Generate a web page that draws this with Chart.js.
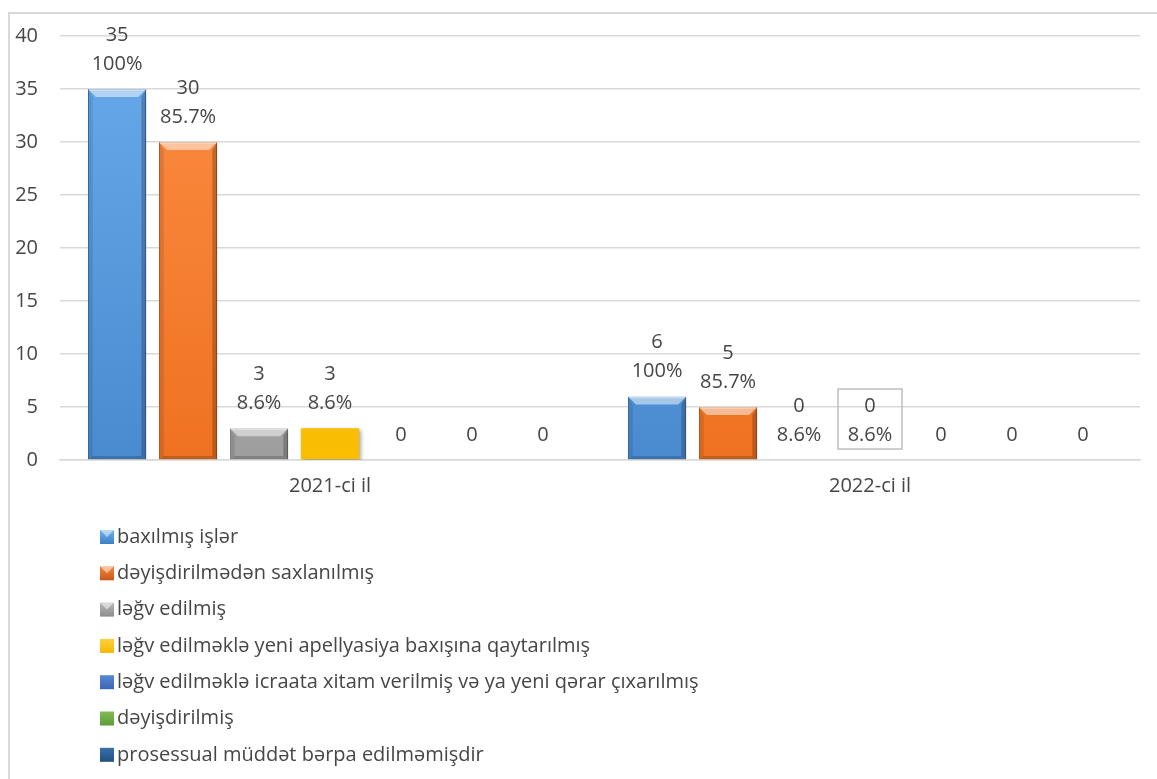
<!DOCTYPE html>
<html>
<head>
<meta charset="utf-8">
<script src="https://cdn.jsdelivr.net/npm/chart.js@4"></script>
<style>
  html, body { margin: 0; padding: 0; background: #fff; overflow: hidden; }
  #wrap { position: relative; width: 1157px; height: 779px; }
  #frame { position: absolute; left: 8px; top: 12px; width: 1200px; height: 800px;
           border-left: 2px solid #d9d9d9; border-top: 2px solid #d9d9d9; }
  canvas { position: absolute; left: 0; top: 0; }
</style>
</head>
<body>
<div id="wrap">
  <div id="frame"></div>
  <canvas id="courtChart" width="1157" height="779"></canvas>
</div>
<script>
const categories = ['2021-ci il', '2022-ci il'];

const seriesNames = [
  'baxılmış işlər',
  'dəyişdirilmədən saxlanılmış',
  'ləğv edilmiş',
  'ləğv edilməklə yeni apellyasiya baxışına qaytarılmış',
  'ləğv edilməklə icraata xitam verilmiş və ya yeni qərar çıxarılmış',
  'dəyişdirilmiş',
  'prosessual müddət bərpa edilməmişdir'
];

const baxilmis = [35, 6];
const deyisdirilmeden = [30, 5];
const legvEdilmis = [3, 0];
const legvYeniBaxis = [3, 0];
const legvXitam = [0, 0];
const deyisdirilmis = [0, 0];
const prosessual = [0, 0];

const baxilmisPct = ['100%', '100%'];
const deyisdirilmedenPct = ['85.7%', '85.7%'];
const legvEdilmisPct = ['8.6%', '8.6%'];
const legvYeniBaxisPct = ['8.6%', '8.6%'];

const yTicks = [0, 5, 10, 15, 20, 25, 30, 35, 40];

const FONT = '"Open Sans", sans-serif';
const TEXT = '#464646';
const FS = 20;

function vGrad(top, bottom) {
  return function(context) {
    const area = context.chart.chartArea;
    if (!area) return top;
    const g = context.chart.ctx.createLinearGradient(0, area.top, 0, area.bottom);
    g.addColorStop(0, top);
    g.addColorStop(1, bottom);
    return g;
  };
}

function makeSet(i, data, pct, top, bottom, border, swatch, bevel) {
  return {
    label: seriesNames[i],
    data: data,
    pctLabels: pct,
    backgroundColor: vGrad(top, bottom),
    borderColor: border,
    borderWidth: bevel ? 1 : 0,
    swatch: swatch,
    bevel: bevel,
    barPercentage: 0.82,
    categoryPercentage: 0.92
  };
}

// soft drop shadow under the bars
const shadowPlugin = {
  id: 'barShadow',
  beforeDatasetsDraw(chart) {
    const ctx = chart.ctx;
    ctx.save();
    ctx.shadowColor = 'rgba(0,0,0,0.35)';
    ctx.shadowBlur = 4;
    ctx.shadowOffsetX = 2;
    ctx.shadowOffsetY = 2;
  },
  afterDatasetsDraw(chart) {
    chart.ctx.restore();
  }
};

// bevel look of the Excel bars
const bevelPlugin = {
  id: 'bevel',
  afterDatasetsDraw(chart) {
    const ctx = chart.ctx;
    chart.data.datasets.forEach((ds, di) => {
      if (!ds.bevel) return;
      chart.getDatasetMeta(di).data.forEach(bar => {
        const h = bar.base - bar.y;
        if (h < 1) return;
        const l = bar.x - bar.width / 2, r = bar.x + bar.width / 2;
        const t = bar.y, b = bar.base;
        const s = Math.min(8, h / 2);
        ctx.save();
        ctx.fillStyle = 'rgba(255,255,255,0.5)';
        ctx.beginPath();
        ctx.moveTo(l, t); ctx.lineTo(r, t); ctx.lineTo(r - s, t + s); ctx.lineTo(l + s, t + s);
        ctx.closePath(); ctx.fill();
        ctx.fillStyle = 'rgba(255,255,255,0.25)';
        ctx.fillRect(l + 1, t, r - l - 2, 2);
        ctx.fillStyle = 'rgba(0,0,0,0.10)';
        ctx.beginPath();
        ctx.moveTo(l, t); ctx.lineTo(l + s * 0.6, t + s); ctx.lineTo(l + s * 0.6, b - s * 0.4); ctx.lineTo(l, b);
        ctx.closePath(); ctx.fill();
        ctx.fillStyle = 'rgba(0,0,0,0.22)';
        ctx.beginPath();
        ctx.moveTo(r, t); ctx.lineTo(r - s * 0.6, t + s); ctx.lineTo(r - s * 0.6, b - s * 0.4); ctx.lineTo(r, b);
        ctx.closePath(); ctx.fill();
        ctx.fillStyle = 'rgba(0,0,0,0.18)';
        ctx.beginPath();
        ctx.moveTo(l, b); ctx.lineTo(l + s * 0.6, b - s * 0.4); ctx.lineTo(r - s * 0.6, b - s * 0.4); ctx.lineTo(r, b);
        ctx.closePath(); ctx.fill();
        ctx.restore();
      });
    });
  }
};

// value + percentage labels over the bars
const labelPlugin = {
  id: 'barLabels',
  afterDraw(chart) {
    const ctx = chart.ctx;
    ctx.save();
    ctx.font = FS + 'px ' + FONT;
    ctx.fillStyle = TEXT;
    ctx.textAlign = 'center';
    ctx.textBaseline = 'middle';
    chart.data.datasets.forEach((ds, di) => {
      chart.getDatasetMeta(di).data.forEach((bar, i) => {
        const lines = [String(ds.data[i])];
        if (ds.pctLabels) lines.push(ds.pctLabels[i]);
        const gap = 29;
        const bottomY = bar.y - 25;
        lines.forEach((txt, k) => {
          ctx.fillText(txt, bar.x, bottomY - (lines.length - 1 - k) * gap);
        });
        if (ds.boxed && ds.boxed[i]) {
          ctx.strokeStyle = '#bfbfbf';
          ctx.lineWidth = 1.5;
          const topY = bottomY - (lines.length - 1) * gap;
          ctx.strokeRect(bar.x - 32, topY - 17, 64, bottomY - topY + 31);
        }
      });
    });
    ctx.restore();
  }
};

// one legend entry per row, under the axis labels
const legendPlugin = {
  id: 'rowLegend',
  afterDraw(chart) {
    const ctx = chart.ctx;
    const startY = chart.scales.x.top + 77;
    const step = 36.3;
    const x0 = 100;
    ctx.save();
    ctx.font = FS + 'px ' + FONT;
    ctx.textBaseline = 'middle';
    ctx.textAlign = 'left';
    chart.data.datasets.forEach((ds, i) => {
      const y = startY + i * step;
      const g = ctx.createLinearGradient(0, y - 7, 0, y + 7);
      g.addColorStop(0, ds.swatch[0]);
      g.addColorStop(1, ds.swatch[1]);
      ctx.fillStyle = g;
      ctx.fillRect(x0, y - 7, 14, 14);
      if (ds.bevel) {
        ctx.fillStyle = 'rgba(255,255,255,0.5)';
        ctx.beginPath();
        ctx.moveTo(x0, y - 7); ctx.lineTo(x0 + 14, y - 7); ctx.lineTo(x0 + 7, y); ctx.closePath();
        ctx.fill();
      }
      ctx.fillStyle = TEXT;
      ctx.fillText(ds.label, x0 + 17, y);
    });
    ctx.restore();
  }
};

const datasets = [
  makeSet(0, baxilmis, baxilmisPct, '#68aaea', '#4a8bd0', '#3f78b5', ['#6fb4ea', '#3c7fc6'], true),
  makeSet(1, deyisdirilmeden, deyisdirilmedenPct, '#fc8d43', '#ef7222', '#c9601e', ['#f58a3c', '#c7561a'], true),
  makeSet(2, legvEdilmis, legvEdilmisPct, '#b4b4b4', '#9e9e9e', '#8a8a8a', ['#b8b8b8', '#8c8c8c'], true),
  makeSet(3, legvYeniBaxis, legvYeniBaxisPct, '#ffc936', '#f9bd00', '#f9bd00', ['#ffd040', '#f5b800'], false),
  makeSet(4, legvXitam, null, '#4472c4', '#4472c4', '#4472c4', ['#5a86d6', '#3a66b6'], false),
  makeSet(5, deyisdirilmis, null, '#70ad47', '#70ad47', '#70ad47', ['#80bd55', '#5f9a3a'], false),
  makeSet(6, prosessual, null, '#255e91', '#255e91', '#255e91', ['#3a70a8', '#1f4f80'], false)
];
datasets[3].boxed = [false, true];

new Chart(document.getElementById('courtChart').getContext('2d'), {
  type: 'bar',
  data: { labels: categories, datasets: datasets },
  plugins: [shadowPlugin, bevelPlugin, labelPlugin, legendPlugin],
  options: {
    responsive: false,
    animation: false,
    layout: { padding: { top: 36, right: 17, left: 0, bottom: 0 } },
    plugins: {
      legend: { display: false },
      tooltip: { enabled: false }
    },
    scales: {
      x: {
        grid: { display: false, drawTicks: false },
        border: { display: true, color: '#d9d9d9', width: 1.5 },
        ticks: { color: TEXT, font: { family: FONT, size: FS }, padding: 14 },
        afterFit(scale) { scale.height = 319; }
      },
      y: {
        min: 0,
        max: 40,
        afterBuildTicks(scale) { scale.ticks = yTicks.map(v => ({ value: v })); },
        grid: { color: '#d9d9d9', lineWidth: 1.5, drawTicks: false },
        border: { display: false },
        ticks: { color: TEXT, font: { family: FONT, size: FS }, padding: 22 },
        afterFit(scale) { scale.width = 60; }
      }
    }
  }
});
</script>
</body>
</html>
